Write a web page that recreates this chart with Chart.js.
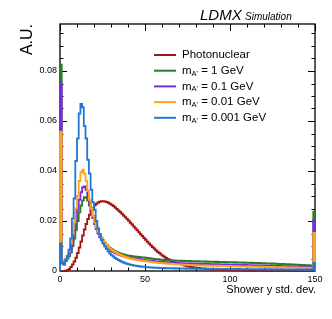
<!DOCTYPE html>
<html><head><meta charset="utf-8">
<script src="https://cdn.jsdelivr.net/npm/chart.js@4.4.1/dist/chart.umd.min.js"></script>
<style>html,body{margin:0;padding:0;background:#fff;overflow:hidden}#wrap{width:332px;height:319px;position:relative}</style>
</head><body><div id="wrap"><canvas id="c" width="332" height="319"></canvas></div>
<script>
// ---- data (bin width 1, range 0..150) ----
const xRange = [0, 150];
const yMax = 0.0988;
const xTickLabels = [0, 50, 100, 150];
const yTickLabels = [0, 0.02, 0.04, 0.06, 0.08];
const seriesNames = ["Photonuclear", "m_{A'} = 1 GeV", "m_{A'} = 0.1 GeV", "m_{A'} = 0.01 GeV", "m_{A'} = 0.001 GeV"];

const photonuclear = [
0,0,0,0.0001,0.0003,0.0008,0.0016,0.0026,0.0038,0.0053,
0.0072,0.0094,0.0118,0.0142,0.0166,0.0188,0.0208,0.0225,0.0240,0.0252,
0.0262,0.0269,0.0274,0.0277,0.0279,0.0279,0.0278,0.0276,0.0273,0.0269,
0.0265,0.0260,0.0254,0.0248,0.0242,0.0236,0.0229,0.0222,0.0215,0.0208,
0.0201,0.0193,0.0186,0.0178,0.0170,0.0163,0.0155,0.0147,0.0140,0.0132,
0.0125,0.0117,0.0110,0.0103,0.0096,0.0090,0.0083,0.0077,0.0072,0.0066,
0.0061,0.0057,0.0052,0.0048,0.0045,0.0041,0.0038,0.0035,0.0032,0.0030,
0.0028,0.0026,0.0024,0.0022,0.0020,0.0019,0.0017,0.0016,0.0015,0.0014,
0.0013,0.0012,0.0011,0.0010,0.0010,0.0009,0.0008,0.0008,0.0007,0.0007,
0.0006,0.0006,0.0005,0.0005,0.0005,0.0004,0.0004,0.0004,0.0003,0.0003,
0.0003,0.0003,0.0002,0.0002,0.0002,0.0002,0.0002,0.0002,0.0001,0.0001,
0.0001,0.0001,0.0001,0.0001,0.0001,0.0001,0.0001,0.0001,0.0001,0.0001,
0,0,0,0,0,0,0,0,0,0,
0,0,0,0,0,0,0,0,0,0,
0,0,0,0,0,0,0,0,0,0];

const mass1GeV = [
0.0825,0.0035,0.0030,0.0040,0.0050,0.0060,0.0075,0.0100,0.0130,0.0165,
0.0200,0.0235,0.0262,0.0282,0.0295,0.0293,0.0282,0.0262,0.0240,0.0218,
0.0196,0.0177,0.0160,0.0145,0.0133,0.0122,0.0113,0.0105,0.0098,0.0092,
0.0087,0.0083,0.0079,0.0076,0.0073,0.0070,0.0068,0.0066,0.0064,0.0062,
0.0061,0.0060,0.0059,0.0058,0.0057,0.0057,0.0056,0.0055,0.0054,0.0054,
0.0053,0.0052,0.0051,0.0050,0.0049,0.0048,0.0047,0.0047,0.0046,0.0045,
0.0045,0.0044,0.0044,0.0043,0.0043,0.0042,0.0042,0.0042,0.0041,0.0041,
0.0041,0.0040,0.0041,0.0040,0.0040,0.0039,0.0040,0.0039,0.0039,0.0039,
0.0038,0.0039,0.0038,0.0038,0.0038,0.0037,0.0038,0.0037,0.0037,0.0037,
0.0037,0.0036,0.0037,0.0036,0.0036,0.0036,0.0035,0.0036,0.0035,0.0035,
0.0035,0.0035,0.0034,0.0035,0.0034,0.0034,0.0034,0.0033,0.0034,0.0033,
0.0033,0.0033,0.0032,0.0033,0.0032,0.0032,0.0031,0.0032,0.0031,0.0031,
0.0031,0.0030,0.0030,0.0030,0.0029,0.0030,0.0029,0.0029,0.0028,0.0028,
0.0028,0.0028,0.0027,0.0027,0.0027,0.0026,0.0026,0.0026,0.0025,0.0025,
0.0025,0.0024,0.0024,0.0024,0.0023,0.0023,0.0023,0.0022,0.0022,0.0237];

const mass01GeV = [
0.0750,0.0040,0.0035,0.0045,0.0055,0.0070,0.0090,0.0120,0.0160,0.0200,
0.0245,0.0285,0.0315,0.0335,0.0338,0.0325,0.0300,0.0270,0.0240,0.0212,
0.0188,0.0168,0.0150,0.0136,0.0124,0.0114,0.0105,0.0098,0.0091,0.0085,
0.0080,0.0076,0.0072,0.0069,0.0066,0.0063,0.0061,0.0059,0.0057,0.0055,
0.0054,0.0052,0.0051,0.0050,0.0049,0.0048,0.0047,0.0046,0.0045,0.0044,
0.0043,0.0042,0.0041,0.0041,0.0040,0.0039,0.0038,0.0038,0.0037,0.0037,
0.0036,0.0035,0.0035,0.0034,0.0034,0.0033,0.0033,0.0033,0.0032,0.0032,
0.0031,0.0031,0.0031,0.0030,0.0030,0.0030,0.0029,0.0030,0.0029,0.0029,
0.0029,0.0028,0.0029,0.0028,0.0028,0.0028,0.0027,0.0028,0.0027,0.0027,
0.0027,0.0027,0.0026,0.0027,0.0026,0.0026,0.0026,0.0025,0.0026,0.0025,
0.0025,0.0025,0.0025,0.0024,0.0025,0.0024,0.0024,0.0024,0.0023,0.0024,
0.0023,0.0023,0.0023,0.0023,0.0022,0.0022,0.0022,0.0022,0.0021,0.0022,
0.0021,0.0021,0.0021,0.0021,0.0020,0.0020,0.0020,0.0020,0.0019,0.0020,
0.0019,0.0019,0.0019,0.0018,0.0019,0.0018,0.0018,0.0018,0.0017,0.0018,
0.0017,0.0017,0.0017,0.0017,0.0016,0.0017,0.0016,0.0016,0.0016,0.0204];

const mass001GeV = [
0.0557,0.0045,0.0040,0.0050,0.0060,0.0080,0.0110,0.0150,0.0195,0.0250,
0.0300,0.0360,0.0395,0.0405,0.0390,0.0360,0.0320,0.0285,0.0250,0.0220,
0.0195,0.0175,0.0158,0.0145,0.0132,0.0120,0.0112,0.0104,0.0097,0.0090,
0.0085,0.0080,0.0076,0.0072,0.0068,0.0065,0.0062,0.0059,0.0056,0.0054,
0.0052,0.0050,0.0048,0.0047,0.0045,0.0044,0.0043,0.0042,0.0041,0.0040,
0.0039,0.0038,0.0037,0.0036,0.0035,0.0034,0.0034,0.0033,0.0032,0.0032,
0.0031,0.0030,0.0030,0.0029,0.0029,0.0028,0.0028,0.0027,0.0027,0.0026,
0.0026,0.0026,0.0025,0.0025,0.0025,0.0024,0.0024,0.0024,0.0023,0.0023,
0.0023,0.0023,0.0022,0.0022,0.0022,0.0022,0.0021,0.0022,0.0021,0.0021,
0.0021,0.0021,0.0020,0.0021,0.0020,0.0020,0.0020,0.0020,0.0019,0.0020,
0.0019,0.0019,0.0019,0.0019,0.0018,0.0019,0.0018,0.0018,0.0018,0.0018,
0.0018,0.0017,0.0018,0.0017,0.0017,0.0017,0.0017,0.0016,0.0017,0.0016,
0.0016,0.0016,0.0016,0.0016,0.0015,0.0016,0.0015,0.0015,0.0015,0.0015,
0.0015,0.0014,0.0015,0.0014,0.0014,0.0014,0.0014,0.0014,0.0013,0.0014,
0.0013,0.0013,0.0013,0.0013,0.0013,0.0012,0.0013,0.0012,0.0012,0.0152];

const mass0001GeV = [
0.0110,0.0030,0.0025,0.0045,0.0060,0.0085,0.0130,0.0210,0.0290,0.0440,
0.0530,0.0630,0.0668,0.0655,0.0580,0.0530,0.0445,0.0390,0.0325,0.0275,
0.0245,0.0200,0.0170,0.0148,0.0125,0.0110,0.0098,0.0088,0.0078,0.0070,
0.0063,0.0058,0.0052,0.0048,0.0044,0.0040,0.0037,0.0034,0.0031,0.0029,
0.0027,0.0025,0.0024,0.0022,0.0021,0.0020,0.0019,0.0018,0.0017,0.0017,
0.0016,0.0015,0.0015,0.0014,0.0014,0.0013,0.0013,0.0013,0.0012,0.0012,
0.0012,0.0012,0.0011,0.0011,0.0011,0.0011,0.0011,0.0010,0.0011,0.0010,
0.0010,0.0010,0.0010,0.0010,0.0009,0.0010,0.0010,0.0009,0.0009,0.0010,
0.0009,0.0009,0.0009,0.0009,0.0009,0.0008,0.0009,0.0009,0.0008,0.0009,
0.0008,0.0008,0.0009,0.0008,0.0008,0.0008,0.0008,0.0008,0.0007,0.0008,
0.0008,0.0008,0.0007,0.0008,0.0007,0.0008,0.0007,0.0007,0.0007,0.0008,
0.0007,0.0007,0.0007,0.0007,0.0007,0.0007,0.0007,0.0006,0.0007,0.0007,
0.0007,0.0006,0.0007,0.0006,0.0007,0.0006,0.0006,0.0007,0.0006,0.0006,
0.0006,0.0006,0.0006,0.0006,0.0006,0.0006,0.0006,0.0005,0.0006,0.0006,
0.0006,0.0005,0.0006,0.0006,0.0005,0.0006,0.0005,0.0006,0.0006,0.0032];

const seriesValues = [photonuclear, mass1GeV, mass01GeV, mass001GeV, mass0001GeV];
const seriesColors = ['#a31515', '#2b7b2b', '#7a2be0', '#ffa31a', '#1f78d6'];

// ---- build step-histogram points from bin contents ----
function histPoints(vals) {
  const n = vals.length, w = (xRange[1] - xRange[0]) / n;
  const pts = [{x: xRange[0], y: 0}];
  vals.forEach((v, i) => pts.push({x: xRange[0] + i * w, y: v}));
  pts.push({x: xRange[1], y: vals[n - 1]});
  pts.push({x: xRange[1], y: 0});
  return pts;
}

const FONT = '"Liberation Sans", Arial, Helvetica, sans-serif';

const frameTicks = {
  id: 'frameTicks',
  beforeDatasetsDraw(chart) {
    const {ctx, chartArea: a, scales: {x, y}} = chart;
    ctx.save();
    ctx.strokeStyle = '#000';
    ctx.lineWidth = 1;
    ctx.beginPath();
    for (let v = xRange[0]; v <= xRange[1]; v += 10) {
      const px = Math.round(x.getPixelForValue(v)) + 0.5;
      const L = (v % 50 === 0) ? 7 : 3.5;
      ctx.moveTo(px, a.bottom); ctx.lineTo(px, a.bottom - L);
      ctx.moveTo(px, a.top); ctx.lineTo(px, a.top + L);
    }
    for (let k = 0; k * 0.005 <= yMax; k++) {
      const py = Math.round(y.getPixelForValue(k * 0.005)) + 0.5;
      const L = (k % 4 === 0) ? 7 : 3.5;
      ctx.moveTo(a.left, py); ctx.lineTo(a.left + L, py);
      ctx.moveTo(a.right, py); ctx.lineTo(a.right - L, py);
    }
    ctx.stroke();
    ctx.lineWidth = 1.3;
    ctx.strokeRect(a.left, a.top, a.right - a.left, a.bottom - a.top);
    ctx.restore();
  }
};

const texts = {
  id: 'texts',
  afterDraw(chart) {
    const ctx = chart.ctx;
    ctx.save();
    ctx.fillStyle = '#000';
    ctx.textBaseline = 'alphabetic';
    ctx.textAlign = 'left';
    ctx.font = 'italic 15px ' + FONT;
    ctx.fillText('LDMX', 200, 20);
    ctx.font = 'italic 10px ' + FONT;
    ctx.fillText('Simulation', 245, 20);
    ctx.font = '11px ' + FONT;
    ctx.textAlign = 'right';
    ctx.fillText('Shower y std. dev.', 316, 293);
    ctx.save();
    ctx.translate(32, 24);
    ctx.rotate(-Math.PI / 2);
    ctx.font = '16px ' + FONT;
    ctx.textAlign = 'right';
    ctx.fillText('A.U.', 0, 0);
    ctx.restore();
    ctx.textAlign = 'left';
    ctx.textBaseline = 'middle';
    seriesNames.forEach((name, i) => {
      const yy = 55 + i * 15.7;
      ctx.strokeStyle = seriesColors[i];
      ctx.lineWidth = 2;
      ctx.beginPath(); ctx.moveTo(154, yy); ctx.lineTo(176, yy); ctx.stroke();
      let xx = 182;
      const parts = name.split(/_\{([^}]*)\}/);
      parts.forEach((p, j) => {
        if (j % 2 === 1) {
          ctx.font = '7.5px ' + FONT;
          ctx.fillText(p, xx, yy + 3);
        } else {
          ctx.font = '11.5px ' + FONT;
          ctx.fillText(p, xx, yy);
        }
        xx += ctx.measureText(p).width;
      });
    });
    ctx.restore();
  }
};

new Chart(document.getElementById('c'), {
  type: 'line',
  data: {
    datasets: seriesValues.map((vals, i) => ({
      label: seriesNames[i],
      data: histPoints(vals),
      borderColor: seriesColors[i],
      borderWidth: 1.8,
      stepped: 'before',
      fill: false,
      pointRadius: 0,
      clip: 4,
      order: seriesValues.length - 1 - i
    }))
  },
  options: {
    responsive: false, animation: false, devicePixelRatio: 1,
    layout: {padding: {top: 24, right: 17, left: 0, bottom: 0}},
    plugins: {legend: {display: false}, tooltip: {enabled: false}},
    scales: {
      x: {
        type: 'linear', min: xRange[0], max: xRange[1],
        afterBuildTicks: s => { s.ticks = xTickLabels.map(v => ({value: v})); },
        ticks: {font: {size: 9, family: FONT}, color: '#000', padding: 3, maxRotation: 0, autoSkip: false,
                callback: v => String(v)},
        grid: {display: false, drawTicks: false}, border: {display: false},
        afterFit: s => { s.height = 48; }
      },
      y: {
        type: 'linear', min: 0, max: yMax,
        afterBuildTicks: s => { s.ticks = yTickLabels.map(v => ({value: v})); },
        ticks: {font: {size: 9, family: FONT}, color: '#000', padding: 3, autoSkip: false,
                callback: v => String(v)},
        grid: {display: false, drawTicks: false}, border: {display: false},
        afterFit: s => { s.width = 60; }
      }
    }
  },
  plugins: [frameTicks, texts]
});
</script>
</body></html>
